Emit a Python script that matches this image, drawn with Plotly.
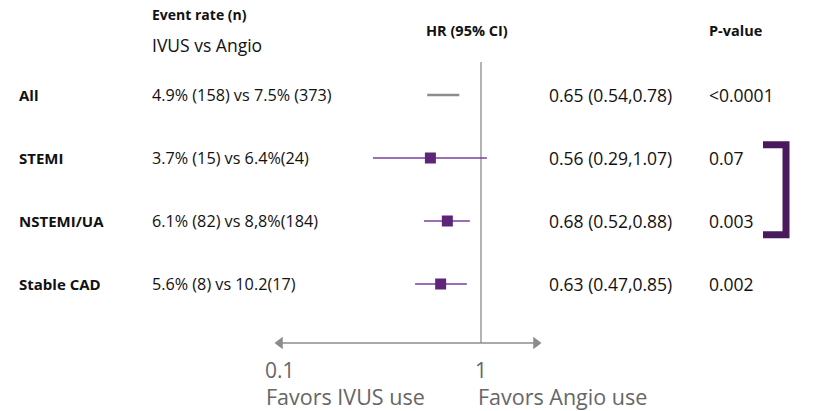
import math
import plotly.graph_objects as go

# ---- data ----
groups = ["All", "STEMI", "NSTEMI/UA", "Stable CAD"]
event_rates = [
    "4.9% (158) vs 7.5% (373)",
    "3.7% (15) vs 6.4%(24)",
    "6.1% (82) vs 8,8%(184)",
    "5.6% (8) vs 10.2(17)",
]
hr = [0.65, 0.56, 0.68, 0.63]
ci_low = [0.54, 0.29, 0.52, 0.47]
ci_high = [0.78, 1.07, 0.88, 0.85]
p_values = ["<0.0001", "0.07", "0.003", "0.002"]
tick_vals = [0.1, 1]
tick_text = ["0.1", "1"]

W, H = 817, 411
FONT = "Open Sans"
PURPLE_LINE = "#7a3f9c"
PURPLE_MARK = "#5e2479"
BRACKET = "#4a1a5e"
GREY = "#8c8c8c"

# layout geometry (pixels)
px_per_dec = 201.0
x_one = 481.0
row0_px, row_step = 95.0, 63.0
x_range = [-x_one / px_per_dec, (W - x_one) / px_per_dec]
y_range = [(H - row0_px) / row_step, -row0_px / row_step]
axis_row = (343 - row0_px) / row_step
top_row = (62 - row0_px) / row_step
arrow_hi = 10 ** ((536 - x_one) / px_per_dec)


def px(x):
    return x / W


fig = go.Figure()

# reference line at HR = 1
fig.add_trace(go.Scatter(x=[1, 1], y=[top_row, axis_row], mode="lines",
                         line=dict(color="#9a9a9a", width=1.5), hoverinfo="skip"))

# horizontal axis with arrowheads
fig.add_trace(go.Scatter(x=[tick_vals[0], arrow_hi], y=[axis_row, axis_row], mode="lines",
                         line=dict(color=GREY, width=1.5), hoverinfo="skip"))
fig.add_trace(go.Scatter(x=[tick_vals[0], arrow_hi], y=[axis_row, axis_row], mode="markers",
                         marker=dict(symbol=["triangle-left", "triangle-right"], size=11,
                                     color=GREY), hoverinfo="skip"))

# confidence intervals
for i in range(len(groups)):
    color = GREY if i == 0 else PURPLE_LINE
    width = 2.5 if i == 0 else 1.5
    fig.add_trace(go.Scatter(x=[ci_low[i], ci_high[i]], y=[i, i], mode="lines",
                             line=dict(color=color, width=width), hoverinfo="skip"))

# point estimates (subgroups only)
fig.add_trace(go.Scatter(x=hr[1:], y=list(range(1, len(groups))), mode="markers",
                         marker=dict(symbol="square", size=11, color=PURPLE_MARK),
                         hoverinfo="skip"))

ann = []


def text(x, y, s, size, bold=False, color="#111111", yref="y", xref="paper"):
    ann.append(dict(x=x, y=y, xref=xref, yref=yref, text=f"<b>{s}</b>" if bold else s,
                    showarrow=False, xanchor="left" if xref == "paper" else "center",
                    yanchor="middle",
                    font=dict(family=FONT, size=size, color=color)))


# column headers
text(px(150), 1 - 15 / H, "Event rate (n)", 14, bold=True, yref="paper")
text(px(150), 1 - 45 / H, "IVUS vs Angio", 17.5, yref="paper")
text(px(424), 1 - 30 / H, "HR (95% CI)", 14.5, bold=True, yref="paper")
text(px(707), 1 - 30 / H, "P-value", 14.5, bold=True, yref="paper")

# table rows
for i, g in enumerate(groups):
    text(px(17), i, g, 15, bold=True)
    text(px(150), i, event_rates[i], 16.2)
    text(px(547), i, f"{hr[i]:.2f} ({ci_low[i]:.2f},{ci_high[i]:.2f})", 17.5)
    text(px(707), i, p_values[i], 17.5)

# axis tick labels
for v, t in zip(tick_vals, tick_text):
    text(math.log10(v), axis_row + 27 / row_step, t, 21, color="#666666", xref="x")

# favour labels
text(px(264), 1 - 396 / H, "Favors IVUS use", 21.5, color="#666666", yref="paper")
text(px(476), 1 - 396 / H, "Favors Angio use", 21.5, color="#666666", yref="paper")

# interaction bracket spanning STEMI and NSTEMI/UA
b_top, b_bot = 1 - 0.21, 2 + 0.22
bx0, bx1 = px(763), px(786)
shapes = [dict(type="path", xref="paper", yref="y",
               path=f"M {bx0} {b_top} L {bx1} {b_top} L {bx1} {b_bot} L {bx0} {b_bot}",
               line=dict(color=BRACKET, width=7))]

fig.update_layout(
    width=W, height=H, margin=dict(l=0, r=0, t=0, b=0),
    paper_bgcolor="white", plot_bgcolor="white", showlegend=False,
    xaxis=dict(type="log", range=x_range, visible=False, fixedrange=True),
    yaxis=dict(range=y_range, visible=False, fixedrange=True),
    annotations=ann, shapes=shapes,
)

fig.write_html("out.html")
